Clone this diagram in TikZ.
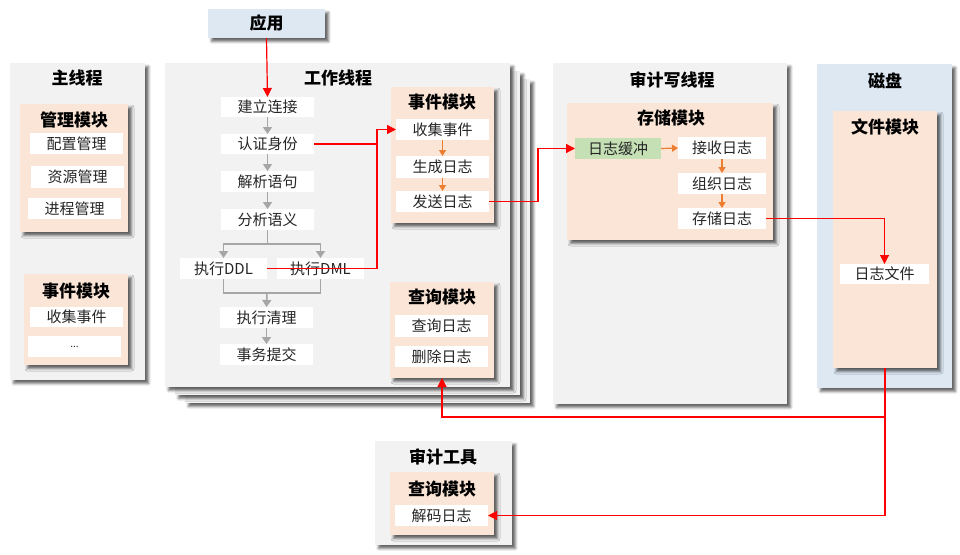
\documentclass[tikz,border=0pt]{standalone}
\usepackage{fontspec}
\setmainfont{Noto Sans CJK SC}
\usetikzlibrary{arrows.meta,shadows.blur,calc}
\definecolor{pgray}{HTML}{F2F2F2}
\definecolor{peach}{HTML}{FBE5D6}
\definecolor{lblue}{HTML}{DDE8F3}
\definecolor{lgreen}{HTML}{C5E0B4}
\definecolor{orng}{HTML}{ED7D31}
\definecolor{agray}{HTML}{A6A6A6}
\newcommand\mybox[7]{\node[#2, minimum width={(#5)-(#3)}, minimum height={(#6)-(#4)}] (#1) at ({((#3)+(#5))/2},{((#4)+(#6))/2}) {#7};}
\begin{document}
\begin{tikzpicture}[x=1pt,y=-1pt,
  shd/.style={blur shadow={shadow xshift=3.5pt, shadow yshift=-3.5pt, shadow blur radius=2.5pt, shadow opacity=60}},
  base/.style={inner sep=0pt, outer sep=0pt},
  panel/.style={base, fill=pgray, shd},
  bpanel/.style={base, fill=lblue, shd},
  module/.style={base, fill=peach, shd},
  item/.style={base, fill=white, font=\fontsize{15}{18}\selectfont, text=black!85},
  gitem/.style={item, fill=lgreen},
  ttl/.style={base, font=\bfseries\fontsize{17}{20}\selectfont},
  redln/.style={draw=red, line width=1.2pt},
  redarr/.style={redln, -{Triangle[length=9pt,width=9pt]}},
  grayarr/.style={draw=agray, line width=1.5pt, -{Triangle[length=7pt,width=9pt]}},
  grayln/.style={draw=agray, line width=1.5pt},
  orarr/.style={draw=orng, line width=1.2pt, -{Triangle[length=6pt,width=7pt]}}
]
\useasboundingbox (0,0) rectangle (960,554);

% application
\mybox{app}{bpanel, font=\bfseries\fontsize{17}{20}\selectfont}{208}{9}{325}{38}{应用}

% main thread
\mybox{mainp}{panel}{10}{63}{145}{380}{}
\node[ttl] (t-main) at (77,78) {主线程};
\mybox{mgmt}{module}{20}{104}{128}{232}{}
\node[ttl] (t-mgmt) at (74,120) {管理模块};
\mybox{cfg}{item}{30}{133}{123}{154}{配置管理}
\mybox{res}{item}{31}{166}{124}{188}{资源管理}
\mybox{proc}{item}{28}{198}{121}{219}{进程管理}
\mybox{evl}{module}{24}{274}{128}{365}{}
\node[ttl] (t-evl) at (76,291) {事件模块};
\mybox{colL}{item}{30}{307}{123}{327}{收集事件}
\mybox{dots}{item, font=\fontsize{10}{12}\selectfont}{28}{336}{121}{357}{...}

% worker threads (stacked)
\mybox{wp3}{panel}{185}{79}{530}{403}{}
\mybox{wp2}{panel}{175}{71}{520}{395}{}
\mybox{wp}{panel}{165}{63}{510}{387}{}
\node[ttl] (t-work) at (338,78) {工作线程};
\mybox{conn}{item}{221}{97}{314}{117}{建立连接}
\mybox{auth}{item}{221}{134}{314}{154}{认证身份}
\mybox{parse}{item}{221}{171}{314}{192}{解析语句}
\mybox{sem}{item}{221}{209}{314}{230}{分析语义}
\mybox{ddl}{item}{180}{258}{267}{279}{执行DDL}
\mybox{dml}{item}{277}{258}{364}{279}{执行DML}
\mybox{clean}{item}{220}{307}{313}{328}{执行清理}
\mybox{commit}{item}{220}{344}{313}{365}{事务提交}

\mybox{evw}{module}{391}{87}{494}{223}{}
\node[ttl] (t-evw) at (442,102) {事件模块};
\mybox{collect}{item}{396}{119}{489}{140}{收集事件}
\mybox{gen}{item}{396}{156}{489}{178}{生成日志}
\mybox{send}{item}{396}{191}{489}{212}{发送日志}

\mybox{qw}{module}{390}{282}{494}{378}{}
\node[ttl] (t-qw) at (442,297) {查询模块};
\mybox{qlog}{item}{395}{315}{488}{337}{查询日志}
\mybox{dlog}{item}{395}{346}{488}{367}{删除日志}

% audit write thread
\mybox{awp}{panel}{553}{63}{787}{404}{}
\node[ttl] (t-aw) at (672,80) {审计写线程};
\mybox{store}{module}{567}{103}{773}{240}{}
\node[ttl] (t-store) at (671,118) {存储模块};
\mybox{buf}{gitem}{575}{138}{661}{159}{日志缓冲}
\mybox{recv}{item}{678}{137}{766}{159}{接收日志}
\mybox{org}{item}{678}{173}{766}{194}{组织日志}
\mybox{save}{item}{678}{208}{766}{229}{存储日志}

% disk
\mybox{disk}{bpanel}{817}{64}{952}{388}{}
\node[ttl] (t-disk) at (885,81) {磁盘};
\mybox{filem}{module}{833}{111}{937}{368}{}
\node[ttl] (t-file) at (885,127) {文件模块};
\mybox{lfile}{item}{840}{264}{929}{284}{日志文件}

% audit tool
\mybox{atp}{panel}{375}{441}{512}{545}{}
\node[ttl] (t-at) at (443,457) {审计工具};
\mybox{qt}{module}{390}{472}{494}{535}{}
\node[ttl] (t-qt) at (442,489) {查询模块};
\mybox{decode}{item}{395}{505}{488}{526}{解码日志}

% gray flow
\draw[grayarr] (conn.south) -- (auth.north);
\draw[grayarr] (auth.south) -- (parse.north);
\draw[grayarr] (parse.south) -- (sem.north);
\coordinate (split) at (267.5,244);
\draw[grayln] (sem.south) -- (split);
\draw[grayarr] (split) -| (ddl.north);
\draw[grayarr] (split) -| (dml.north);
\coordinate (join) at (267,293);
\draw[grayln] (ddl.south) |- (join) -| (dml.south);
\draw[grayarr] (join) -- (clean.north);
\draw[grayarr] (clean.south) -- (commit.north);

% orange flow
\draw[orarr] (collect.south) -- (gen.north);
\draw[orarr] (gen.south) -- (send.north);
\draw[orarr] (buf.east) -- (recv.west);
\draw[orarr] (recv.south) -- (org.north);
\draw[orarr] (org.south) -- (save.north);

% red connectors
\draw[redarr] (app.south) -- (conn.north);
\coordinate (wr) at (377,0);
\draw[redln] (auth.east) -- (auth.east -| wr);
\draw[redarr] (ddl.east) -| (wr |- collect.west) -- (collect.west);
\coordinate (sx) at (538,0);
\draw[redarr] (send.east) -| (sx |- buf.west) -- (buf.west);
\draw[redarr] (save.east) -| (lfile.north);
\coordinate (fb) at (885,417);
\draw[redarr] (filem.south) -- (fb) -| (qw.south);
\draw[redarr] (fb) |- (decode.east);
\end{tikzpicture}
\end{document}
